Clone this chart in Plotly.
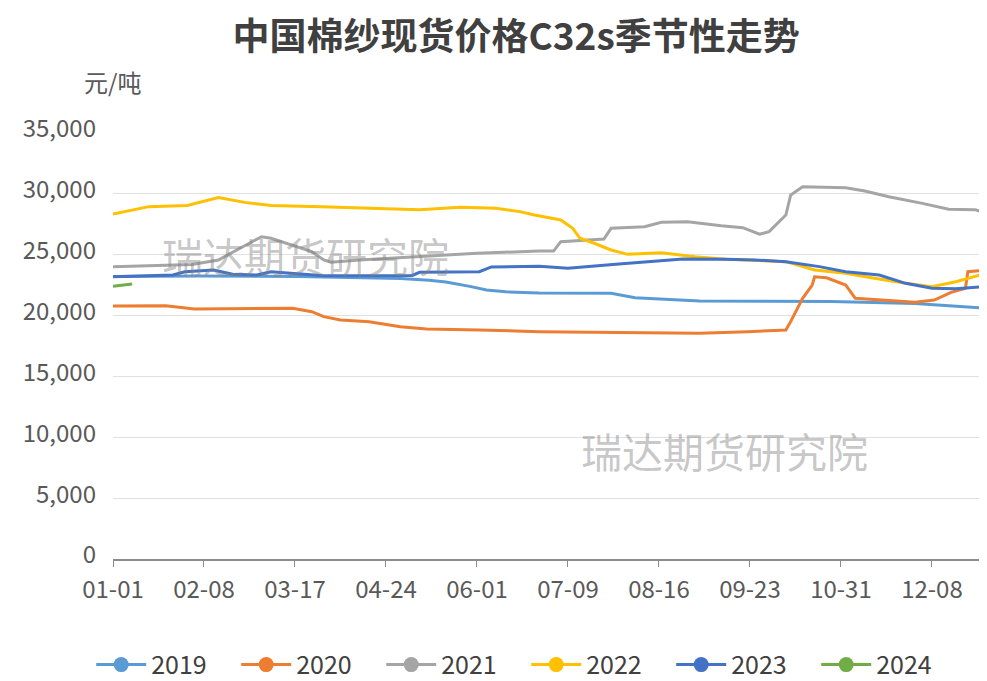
import pandas as pd
import plotly.graph_objects as go

# ---- data -------------------------------------------------------------
categories = pd.date_range("2024-01-01", "2024-12-31", freq="D").strftime("%m-%d").tolist()
tick_labels = ["01-01", "02-08", "03-17", "04-24", "06-01", "07-09",
               "08-16", "09-23", "10-31", "12-08"]
y_ticks = [0, 5000, 10000, 15000, 20000, 25000, 30000, 35000]

dates_2019 = ["01-01", "02-06", "03-19", "04-30", "05-12", "05-19", "05-29", "06-05",
              "06-13", "06-27", "07-27", "08-06", "09-02", "09-22", "10-27", "12-01",
              "12-28", "12-31"]
vals_2019 = [23200, 23250, 23200, 23050, 22900, 22750, 22400, 22100,
             21950, 21850, 21830, 21470, 21200, 21200, 21150, 21000,
             20650, 20600]

dates_2020 = ["01-01", "01-23", "02-04", "02-25", "03-16", "03-24", "03-29", "04-05",
              "04-17", "04-30", "05-11", "06-02", "06-27", "07-30", "09-02", "09-22",
              "10-08", "10-10", "10-15", "10-19", "10-20", "10-25", "11-02", "11-06",
              "11-17", "12-01", "12-09", "12-16", "12-22", "12-23", "12-28", "12-31"]
vals_2020 = [20790, 20800, 20540, 20600, 20600, 20320, 19910, 19640,
             19500, 19090, 18900, 18810, 18680, 18600, 18550, 18680,
             18810, 19500, 21420, 22510, 23190, 23100, 22510, 21420,
             21280, 21090, 21280, 21910, 22240, 23600, 23680, 23680]

dates_2021 = ["01-01", "01-26", "02-03", "02-14", "02-22", "02-28", "03-03", "03-07",
              "03-13", "03-18", "03-24", "03-29", "04-01", "04-13", "05-08", "06-01",
              "06-27", "07-03", "07-06", "07-24", "07-27", "08-10", "08-17", "08-28",
              "09-11", "09-20", "09-27", "10-01", "10-08", "10-10", "10-15", "11-02",
              "11-10", "11-20", "12-04", "12-15", "12-26", "12-31"]
vals_2021 = [24020, 24150, 24200, 24570, 25390, 26070, 26480, 26350,
             25940, 25660, 25250, 24570, 24380, 24570, 24840, 25120,
             25300, 25300, 26070, 26290, 27170, 27300, 27660, 27700,
             27380, 27220, 26680, 26900, 28260, 29900, 30590, 30500,
             30230, 29770, 29220, 28730, 28700, 28400]

dates_2022 = ["01-01", "01-16", "02-01", "02-14", "02-25", "03-07", "03-28", "04-24",
              "05-08", "05-25", "06-09", "06-19", "06-25", "07-06", "07-11", "07-14",
              "07-20", "07-27", "08-03", "08-17", "08-25", "08-31", "09-13", "10-08",
              "10-20", "11-02", "11-14", "11-27", "12-08", "12-18", "12-23", "12-28",
              "12-31"]
vals_2022 = [28350, 28950, 29050, 29700, 29300, 29050, 28950, 28810,
             28700, 28900, 28810, 28540, 28260, 27850, 27170, 26350,
             25940, 25390, 25030, 25170, 24980, 24840, 24620, 24430,
             23740, 23470, 23060, 22650, 22370, 22780, 23060, 23330,
             23330]

dates_2023 = ["01-01", "01-26", "01-31", "02-12", "02-20", "03-01", "03-07", "03-16",
              "03-29", "05-05", "05-08", "06-02", "06-07", "06-27", "07-09", "07-29",
              "08-26", "09-13", "09-25", "10-08", "10-22", "11-02", "11-16", "11-27",
              "12-08", "12-18", "12-28", "12-31"]
vals_2023 = [23190, 23330, 23600, 23740, 23390, 23330, 23600, 23460,
             23280, 23300, 23550, 23600, 24000, 24050, 23880, 24210,
             24650, 24620, 24570, 24430, 24020, 23600, 23330, 22650,
             22240, 22200, 22370, 22400]

dates_2024 = ["01-01", "01-05", "01-09"]
vals_2024 = [22400, 22500, 22600]

series_names = ["2019", "2020", "2021", "2022", "2023", "2024"]
series_dates = [dates_2019, dates_2020, dates_2021, dates_2022, dates_2023, dates_2024]
series_vals = [vals_2019, vals_2020, vals_2021, vals_2022, vals_2023, vals_2024]
colors = ["#5B9BD5", "#ED7D31", "#A5A5A5", "#FFC000", "#4472C4", "#70AD47"]

# ---- figure -----------------------------------------------------------
FONT = "Noto Sans CJK SC"
W, H = 979, 673   # page body margin (8px) makes the visible frame 987x681

fig = go.Figure()
for name, d, v, c in zip(series_names, series_dates, series_vals, colors):
    fig.add_trace(go.Scatter(x=d, y=v, mode="lines", name=name,
                             line=dict(color=c, width=3), showlegend=False,
                             hoverinfo="x+y+name"))
for name, c in zip(series_names, colors):
    fig.add_trace(go.Scatter(x=[None], y=[None], mode="lines+markers", name=name,
                             line=dict(color=c, width=3),
                             marker=dict(color=c, size=15, symbol="circle")))

fig.update_layout(
    width=W, height=H,
    margin=dict(l=105, r=0, t=125, b=122),
    paper_bgcolor="white", plot_bgcolor="white",
    font=dict(family=FONT, color="#595959", size=25),
    title=dict(text="<b>中国棉纱现货价格C32s季节性走势</b>",
               font=dict(family=FONT, size=37, color="#404040"),
               x=0.519, xanchor="center", y=0.957, yanchor="middle",
               xref="container", yref="container"),
    xaxis=dict(type="category", categoryorder="array", categoryarray=categories,
               range=[0, len(categories) - 1],
               tickmode="array", tickvals=tick_labels, ticktext=tick_labels,
               showline=True, linecolor="#8C8C8C", linewidth=1.5,
               ticks="outside", ticklen=6, tickcolor="#8C8C8C",
               showgrid=False, zeroline=False, ticklabelstandoff=2,
               tickfont=dict(size=24, color="#595959")),
    yaxis=dict(range=[0, 35000], tickvals=y_ticks, tickformat=",",
               showgrid=True, gridcolor="#E0E0E0", gridwidth=1,
               zeroline=False, showline=False, ticks="",
               ticklabelstandoff=16, ticklabelshift=-4,
               tickfont=dict(size=24, color="#595959")),
    legend=dict(orientation="h", xref="container", yref="container",
                x=0.085, xanchor="left", y=0.024, yanchor="middle",
                itemwidth=50, entrywidth=80, entrywidthmode="pixels",
                font=dict(size=25, color="#404040")),
    annotations=[
        dict(text="元/吨", xref="paper", yref="paper", x=-0.036, y=1.12,
             xanchor="left", yanchor="middle", showarrow=False,
             font=dict(family=FONT, size=24, color="#595959")),
        dict(text="瑞达期货研究院", xref="paper", yref="paper", x=0.22, y=0.714,
             xanchor="center", yanchor="middle", showarrow=False,
             font=dict(family=FONT, size=41, color="rgba(130,130,130,0.45)")),
        dict(text="瑞达期货研究院", xref="paper", yref="paper", x=0.70, y=0.255,
             xanchor="center", yanchor="middle", showarrow=False,
             font=dict(family=FONT, size=41, color="rgba(130,130,130,0.45)")),
    ],
)

fig.write_html("out.html")
